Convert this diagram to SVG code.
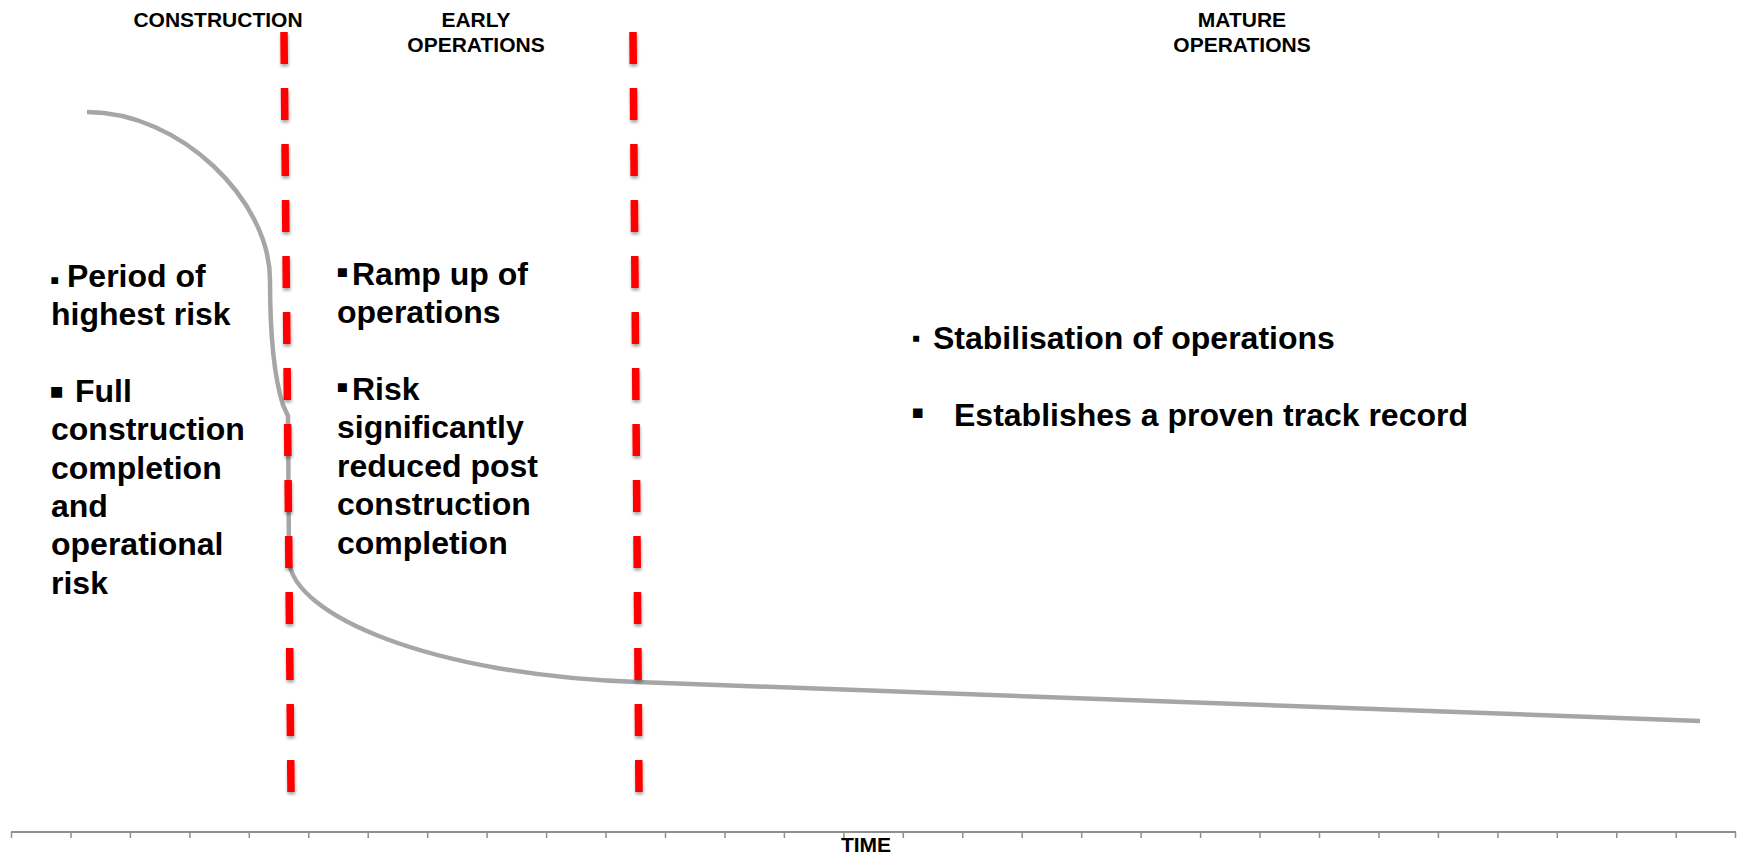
<svg xmlns="http://www.w3.org/2000/svg" width="1746" height="855" viewBox="0 0 1746 855">
<defs>
<style>
.hdr{font-family:"Liberation Sans",Arial,sans-serif;font-weight:bold;font-size:21px;fill:#000;text-anchor:middle}
.body{font-family:"Liberation Sans",Arial,sans-serif;font-weight:bold;font-size:32px;fill:#000}
.curve{fill:none;stroke:#a6a6a6;stroke-width:4.5;stroke-linejoin:round;stroke-linecap:butt}
.phase{fill:none;stroke:#ff0000;stroke-width:7.5;stroke-dasharray:32 24}
.axis{stroke:#8f8f8f;stroke-width:2;fill:none}
.tick{stroke:#8f8f8f;stroke-width:1.5}
</style>
<filter id="sh" x="-50%" y="-5%" width="200%" height="110%">
<feDropShadow dx="0.5" dy="2.5" stdDeviation="1.6" flood-color="#000" flood-opacity="0.35"/>
</filter>
</defs>
<rect width="1746" height="855" fill="#fff"/>

<g id="headers">
<text class="hdr" x="218" y="27">CONSTRUCTION</text>
<text class="hdr" x="476" y="27">EARLY</text>
<text class="hdr" x="476" y="52">OPERATIONS</text>
<text class="hdr" x="1242" y="27">MATURE</text>
<text class="hdr" x="1242" y="52">OPERATIONS</text>
</g>

<g id="risk-curve">
<path class="curve" d="M87,112 C180,112 270,200 270,280 C270,335 275,380 283,405 L288,416 L289,560 C292,615 430,675 637,682 L1700,721"/>
</g>

<g id="phase-lines" filter="url(#sh)">
<line class="phase" x1="284" y1="32" x2="291" y2="792"/>
<line class="phase" x1="633" y1="32" x2="639" y2="792"/>
</g>

<g id="construction-text">
<text class="body"><tspan x="50" y="289" font-size="27">▪</tspan><tspan x="67" y="287">Period of</tspan><tspan x="51" y="325">highest risk</tspan></text>
<text class="body"><tspan x="49" y="406" font-size="44">▪</tspan><tspan x="75" y="402">Full</tspan><tspan x="51" y="440">construction</tspan><tspan x="51" y="479">completion</tspan><tspan x="51" y="517">and</tspan><tspan x="51" y="555">operational</tspan><tspan x="51" y="594">risk</tspan></text>
</g>

<g id="early-ops-text">
<text class="body"><tspan x="336" y="284" font-size="36">▪</tspan><tspan x="352" y="285">Ramp up of</tspan><tspan x="337" y="323">operations</tspan></text>
<text class="body"><tspan x="336" y="399" font-size="36">▪</tspan><tspan x="352" y="400">Risk</tspan><tspan x="337" y="438">significantly</tspan><tspan x="337" y="477">reduced post</tspan><tspan x="337" y="515">construction</tspan><tspan x="337" y="554">completion</tspan></text>
</g>

<g id="mature-ops-text">
<text class="body"><tspan x="912" y="346" font-size="24">▪</tspan><tspan x="933" y="349">Stabilisation of operations</tspan></text>
<text class="body"><tspan x="911" y="425" font-size="38">▪</tspan><tspan x="954" y="426">Establishes a proven track record</tspan></text>
</g>

<g id="time-axis">
<line class="axis" x1="11" y1="832" x2="1736" y2="832"/>
<path class="tick" d="M11.5,832v6M71,832v6M130.4,832v6M189.9,832v6M249.3,832v6M308.8,832v6M368.2,832v6M427.7,832v6M487.1,832v6M546.6,832v6M606,832v6M665.5,832v6M725,832v6M784.4,832v6M843.9,832v6M903.3,832v6M962.8,832v6M1022.2,832v6M1081.7,832v6M1141.1,832v6M1200.6,832v6M1260,832v6M1319.5,832v6M1379,832v6M1438.4,832v6M1497.9,832v6M1557.3,832v6M1616.8,832v6M1676.2,832v6M1735.5,832v6"/>
<text class="hdr" x="866" y="852" font-size="20">TIME</text>
</g>
</svg>
